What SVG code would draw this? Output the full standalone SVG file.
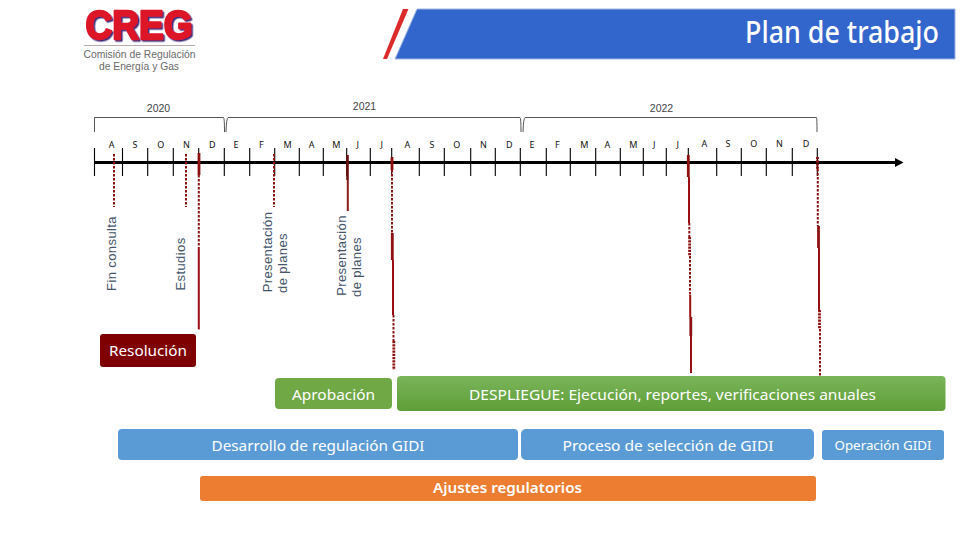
<svg xmlns="http://www.w3.org/2000/svg" width="960" height="540" viewBox="0 0 960 540">
<defs>
<linearGradient id="gr" x1="0" y1="0" x2="0" y2="1"><stop offset="0" stop-color="#7ab55a"/><stop offset="1" stop-color="#5f9e38"/></linearGradient>
<filter id="sh" x="-5%" y="-10%" width="112%" height="125%"><feDropShadow dx="1.500" dy="1.500" stdDeviation="0.300" flood-color="#3a2a78"/></filter>
</defs>
<style>
.m{font:9px "Noto Sans",sans-serif;fill:#111;text-anchor:middle}
.y{font:10.5px "Liberation Sans",Arial,sans-serif;fill:#444;text-anchor:middle}
.v{font:13px "Liberation Sans",Arial,sans-serif;fill:#44546a;text-anchor:middle;letter-spacing:.4px}
.w{font-family:"Noto Sans",sans-serif;fill:#fff;text-anchor:middle}
.tick{stroke:#000;stroke-width:1.1;fill:none}
.br{stroke:#555;stroke-width:1;fill:none}
.d{stroke:#8f1010;stroke-width:2;stroke-dasharray:2.500 1.500;fill:none}
.s{stroke:#9a0f14;stroke-width:2;fill:none}
.t{stroke:#8f1010;stroke-width:2.800;fill:none}
.dt{stroke:#8f1010;stroke-width:2.800;stroke-dasharray:2.200 1;fill:none}
</style>
<rect width="960" height="540" fill="#fff"/>

<g id="logo">
<text x="85.500" y="39" font-family="'Liberation Sans',Arial,sans-serif" font-weight="700" font-size="41" textLength="107" lengthAdjust="spacingAndGlyphs" fill="#dc1428" stroke="#dc1428" stroke-width="2.400" stroke-linejoin="round" filter="url(#sh)">CREG</text>
<line x1="84" y1="45.500" x2="195" y2="45.500" stroke="#b5a9a9" stroke-width="1"/>
<text x="139.500" y="58" font-family="'Liberation Sans',Arial,sans-serif" font-size="10.500" fill="#6a6a6a" text-anchor="middle" textLength="112" lengthAdjust="spacingAndGlyphs">Comisión de Regulación</text>
<text x="139" y="70" font-family="'Liberation Sans',Arial,sans-serif" font-size="10.500" fill="#6a6a6a" text-anchor="middle" textLength="80" lengthAdjust="spacingAndGlyphs">de Energía y Gas</text>
</g>

<g id="banner">
<polygon points="403,9 408.500,9 387,59 383,59" fill="#dc2a2a"/>
<polygon points="417,9 955,9 955,59 395,59" fill="#3366cc" stroke="#9db5e0" stroke-width="1"/>
<text x="939" y="43" font-family="'Noto Sans',sans-serif" font-size="30" font-weight="500" fill="#fff" text-anchor="end" textLength="194" lengthAdjust="spacingAndGlyphs">Plan de trabajo</text>
</g>

<g id="years">
<path class="br" d="M94.500 132V117.500H223.500Q224.500 118 224.500 132"/>
<path class="br" d="M226 132Q226.500 118 228 117.500H520Q521 118 521 132"/>
<path class="br" d="M523 132Q523.500 118 525 117.500H816.500Q817 118 817 132"/>
<text class="y" x="158.500" y="112">2020</text>
<text class="y" x="364.500" y="110">2021</text>
<text class="y" x="661.500" y="112">2022</text>
</g>

<g id="connectors">
<path class="tick" d="M94.500 148V176M122.500 148V176M147.700 148V176M173.300 148V176M198.700 148V176M224.300 148V176M249.700 148V176M274.700 148V176M299.300 148V176M323.300 148V176M346.700 148V176M370.300 148V176M391.700 148V176M419.300 148V176M444.300 148V176M470.700 148V176M495.300 148V176M520.300 148V176M546.300 148V176M570.300 148V176M595.700 148V176M620.300 148V176M643.300 148V176M666.300 148V176M688.300 148V176M716.700 148V176M741.300 148V176M766.300 148V176M792.300 148V176M817.300 148V176"/>
<line x1="94" y1="162.500" x2="897" y2="162.500" stroke="#000" stroke-width="3"/>
<polygon points="895,158 903.500,162.500 895,167" fill="#000"/>

<path class="d" d="M114 154V207"/>
<path class="d" d="M186 154V207"/>
<path class="t" d="M199 153V175"/>
<path class="d" d="M198.800 175V248"/>
<path class="s" d="M198.800 248V329.500"/>
<path class="d" d="M274 154V207"/>
<path stroke="#6b1010" stroke-width="2.600" fill="none" d="M347.500 155V180"/>
<path stroke="#8a1c1c" stroke-width="2" fill="none" d="M347.800 180V211"/>
<path class="t" d="M392 157V170"/>
<path class="d" d="M392 170V233"/>
<path class="t" d="M392.300 233V260"/>
<path class="s" d="M393 260V315"/>
<path class="d" d="M393.500 315V341"/>
<path class="dt" d="M393.800 341V370"/>

<path class="t" d="M688.300 155V177"/>
<path class="s" d="M689 177V223"/>
<path class="d" d="M689.300 223V237"/>
<path class="dt" d="M689.600 237V256"/>
<path class="d" d="M690 256V295"/>
<path class="s" d="M690.200 295V317"/>
<path class="t" d="M690.800 317V336"/>
<path class="s" d="M691 336V373"/>

<path class="dt" d="M817.500 157V169"/>
<path class="d" d="M817.800 169V226"/>
<path class="t" d="M818.500 226V248"/>
<path class="s" d="M819 248V310"/>
<path class="dt" d="M819.500 310V329"/>
<path class="d" d="M820 329V376"/>
</g>

<g id="months">
<text class="m" x="111.700" y="147.500">A</text>
<text class="m" x="135" y="147.500">S</text>
<text class="m" x="160.700" y="147.500">O</text>
<text class="m" x="186.300" y="147.500">N</text>
<text class="m" x="212.300" y="147.500">D</text>
<text class="m" x="236" y="147.500">E</text>
<text class="m" x="261.300" y="147.500">F</text>
<text class="m" x="287.700" y="147.500">M</text>
<text class="m" x="311.700" y="147.500">A</text>
<text class="m" x="336.300" y="147.500">M</text>
<text class="m" x="357.700" y="147.500">J</text>
<text class="m" x="381.700" y="147.500">J</text>
<text class="m" x="407.300" y="147.500">A</text>
<text class="m" x="432" y="147.500">S</text>
<text class="m" x="456.700" y="147.500">O</text>
<text class="m" x="483.300" y="147.500">N</text>
<text class="m" x="509.300" y="147.500">D</text>
<text class="m" x="532" y="147.500">E</text>
<text class="m" x="557.300" y="147.500">F</text>
<text class="m" x="584.300" y="147.500">M</text>
<text class="m" x="607.300" y="147.500">A</text>
<text class="m" x="633.300" y="147.500">M</text>
<text class="m" x="654.300" y="147.500">J</text>
<text class="m" x="677.700" y="147.500">J</text>
<text class="m" x="704.300" y="146.500">A</text>
<text class="m" x="728" y="146.500">S</text>
<text class="m" x="753.700" y="146.500">O</text>
<text class="m" x="779.300" y="146.500">N</text>
<text class="m" x="806" y="146.500">D</text>
</g>

<g id="fin-consulta"><text class="v" transform="translate(116,253.500) rotate(-90)">Fin consulta</text></g>
<g id="estudios"><text class="v" transform="translate(185,264) rotate(-90)">Estudios</text></g>
<g id="presentacion-1"><text class="v" transform="translate(272,252) rotate(-90)">Presentación</text><text class="v" transform="translate(287,263) rotate(-90)">de planes</text></g>
<g id="presentacion-2"><text class="v" transform="translate(346,255.500) rotate(-90)">Presentación</text><text class="v" transform="translate(361,267) rotate(-90)">de planes</text></g>

<g id="resolucion"><rect x="100" y="334" width="96" height="33" rx="3" fill="#7f0000"/><text class="w" x="148" y="356" font-size="14.500" textLength="78" lengthAdjust="spacingAndGlyphs">Resolución</text></g>
<g id="aprobacion"><rect x="275" y="378" width="117" height="31" rx="4" fill="#70a846"/><text class="w" x="333.500" y="400" font-size="14.500" textLength="83" lengthAdjust="spacingAndGlyphs">Aprobación</text></g>
<g id="despliegue"><rect x="397" y="376" width="548.500" height="35" rx="4" fill="url(#gr)"/><text class="w" x="672.500" y="400" font-size="14.500" textLength="407" lengthAdjust="spacingAndGlyphs">DESPLIEGUE: Ejecución, reportes, verificaciones anuales</text></g>
<g id="desarrollo"><rect x="118" y="429" width="400" height="31" rx="4" fill="#5b9bd5"/><text class="w" x="318" y="451" font-size="14.500" textLength="213" lengthAdjust="spacingAndGlyphs">Desarrollo de regulación GIDI</text></g>
<g id="proceso"><rect x="521" y="429" width="293" height="31" rx="5" fill="#5b9bd5"/><text class="w" x="668" y="451" font-size="14.500" textLength="211" lengthAdjust="spacingAndGlyphs">Proceso de selección de GIDI</text></g>
<g id="operacion"><rect x="822" y="430" width="122" height="30" rx="3" fill="#5b9bd5"/><text class="w" x="883" y="450" font-size="12.500" textLength="97" lengthAdjust="spacingAndGlyphs">Operación GIDI</text></g>
<g id="ajustes"><rect x="200" y="476" width="616" height="25" rx="3" fill="#ed7d31"/><text class="w" x="507.500" y="493" font-size="14" font-weight="600" textLength="149" lengthAdjust="spacingAndGlyphs">Ajustes regulatorios</text></g>
</svg>
